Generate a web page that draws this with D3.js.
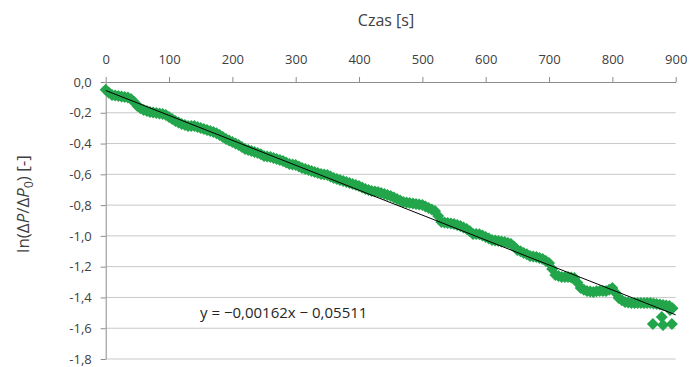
<!DOCTYPE html>
<html>
<head>
<meta charset="utf-8">
<style>
  body { margin: 0; background: white; }
  text { font-family: "Open Sans", Lato, sans-serif; fill: #404040; }
  .grid line { stroke: #c8c8c8; stroke-width: 1; }
  .axis path, .axis line { stroke: #8c8c8c; }
  .axis text { font-family: "Open Sans", Lato, sans-serif; font-size: 13px; fill: #404040; }
</style>
</head>
<body>
<svg width="689" height="367"></svg>
<script src="https://cdn.jsdelivr.net/npm/d3@7"></script>
<script>

// time [s] and ln(dP/dP0)
var times = [
  0,5,10,15,20,25,30,35,40,45,50,55,60,65,70,75,80,85,90,95,
  100,105,110,115,120,125,130,135,140,145,150,155,160,165,170,175,180,185,190,195,
  200,205,210,215,220,225,230,235,240,245,250,255,260,265,270,275,280,285,290,295,
  300,305,310,315,320,325,330,335,340,345,350,355,360,365,370,375,380,385,390,395,
  400,405,410,415,420,425,430,435,440,445,450,455,460,465,470,475,480,485,490,495,
  500,505,510,515,520,525,530,535,540,545,550,555,560,565,570,575,580,585,590,595,
  600,605,610,615,620,625,630,635,640,645,650,655,660,665,670,675,680,685,690,695,
  700,705,710,715,720,725,730,735,740,745,750,755,760,765,770,775,780,785,790,795,
  800,805,810,815,820,825,830,835,840,845,850,855,860,865,870,875,880,885,890,895];
var lnValues = [
  -0.050,-0.070,-0.084,-0.088,-0.091,-0.094,-0.097,-0.100,-0.110,-0.130,-0.156,-0.170,-0.182,-0.188,-0.195,-0.198,-0.201,-0.204,-0.208,-0.215,
  -0.227,-0.240,-0.253,-0.263,-0.273,-0.280,-0.286,-0.286,-0.286,-0.292,-0.299,-0.305,-0.312,-0.318,-0.325,-0.333,-0.344,-0.357,-0.370,-0.380,
  -0.390,-0.400,-0.409,-0.422,-0.435,-0.442,-0.448,-0.455,-0.461,-0.470,-0.481,-0.484,-0.487,-0.494,-0.500,-0.507,-0.513,-0.523,-0.533,-0.536,
  -0.539,-0.549,-0.559,-0.566,-0.572,-0.579,-0.585,-0.592,-0.598,-0.601,-0.604,-0.614,-0.624,-0.630,-0.637,-0.643,-0.650,-0.656,-0.663,-0.670,
  -0.676,-0.686,-0.695,-0.702,-0.708,-0.712,-0.715,-0.722,-0.728,-0.735,-0.741,-0.750,-0.760,-0.770,-0.780,-0.783,-0.786,-0.790,-0.793,-0.796,
  -0.799,-0.809,-0.819,-0.828,-0.838,-0.870,-0.910,-0.913,-0.916,-0.920,-0.923,-0.930,-0.936,-0.946,-0.955,-0.970,-0.988,-0.988,-0.990,-0.998,
  -1.007,-1.017,-1.027,-1.030,-1.033,-1.036,-1.040,-1.046,-1.053,-1.070,-1.092,-1.100,-1.111,-1.120,-1.131,-1.134,-1.137,-1.143,-1.150,-1.163,
  -1.176,-1.215,-1.254,-1.260,-1.267,-1.267,-1.267,-1.270,-1.274,-1.305,-1.339,-1.350,-1.358,-1.362,-1.365,-1.360,-1.358,-1.358,-1.358,-1.350,
  -1.339,-1.370,-1.404,-1.418,-1.430,-1.433,-1.436,-1.436,-1.436,-1.436,-1.436,-1.436,-1.436,-1.440,-1.443,-1.446,-1.449,-1.452,-1.455,-1.470];
// a few loose points at the end of the run
var extraTimes = [864, 880, 894, 891, 878];
var extraValues = [-1.572, -1.579, -1.572, -1.481, -1.527];

var xTicks = [0,100,200,300,400,500,600,700,800,900];
var yTicks = [0,-0.2,-0.4,-0.6,-0.8,-1.0,-1.2,-1.4,-1.6,-1.8];

// linear trend
var slope = -0.00162, intercept = -0.05511;

var svg = d3.select("svg");
var mLeft = 105.7, mRight = 675.7, mTop = 82, mBottom = 359;

var x = d3.scaleLinear().domain([0, 900]).range([mLeft, mRight]);
var y = d3.scaleLinear().domain([-1.8, 0]).range([mBottom, mTop]);

var commaFmt = function(d) { return d3.format(".1f")(d).replace(".", ",").replace("\u2212", "-"); };

// gridlines
svg.append("g").attr("class", "grid")
  .selectAll("line")
  .data(yTicks.filter(function(d) { return d !== 0; }))
  .enter().append("line")
    .attr("x1", mLeft).attr("x2", mRight)
    .attr("y1", function(d) { return y(d); })
    .attr("y2", function(d) { return y(d); });

svg.append("g").attr("class", "axis")
  .attr("transform", "translate(0," + mTop + ")")
  .call(d3.axisTop(x).tickValues(xTicks).tickSize(5).tickSizeOuter(0).tickPadding(13));

svg.append("g").attr("class", "axis")
  .attr("transform", "translate(" + mLeft + ",0)")
  .call(d3.axisLeft(y).tickValues(yTicks).tickFormat(commaFmt).tickSize(5).tickSizeOuter(0).tickPadding(9));

// points
var pts = times.map(function(t, i) { return [t, lnValues[i]]; })
  .concat(extraTimes.map(function(t, i) { return [t, extraValues[i]]; }));
var r = 6;
svg.append("g").selectAll("path")
  .data(pts)
  .enter().append("path")
    .attr("d", "M0," + (-r) + "L" + r + ",0L0," + r + "L" + (-r) + ",0Z")
    .attr("transform", function(d) { return "translate(" + x(d[0]) + "," + y(d[1]) + ")"; })
    .attr("fill", "#23a64b");

// trendline
svg.append("line")
  .attr("x1", x(0)).attr("y1", y(intercept))
  .attr("x2", x(900)).attr("y2", y(slope * 900 + intercept))
  .attr("stroke", "#000").attr("stroke-width", 1);

// equation
svg.append("text")
  .attr("x", 200).attr("y", 318)
  .style("font-size", "15px").style("fill", "#262626")
  .text("y = \u22120,00162x \u2212 0,05511");

// titles
svg.append("text")
  .attr("x", 386).attr("y", 26)
  .attr("text-anchor", "middle")
  .style("font-size", "16px")
  .text("Czas [s]");

var yt = svg.append("text")
  .attr("transform", "translate(29,204) rotate(-90)")
  .attr("text-anchor", "middle")
  .style("font-size", "17px");
yt.append("tspan").text("ln(\u0394");
yt.append("tspan").style("font-style", "italic").text("P");
yt.append("tspan").text("/\u0394");
yt.append("tspan").style("font-style", "italic").text("P");
yt.append("tspan").attr("dy", 4).style("font-size", "12px").text("0");
yt.append("tspan").attr("dy", -4).text(") [-]");

</script>
</body>
</html>
